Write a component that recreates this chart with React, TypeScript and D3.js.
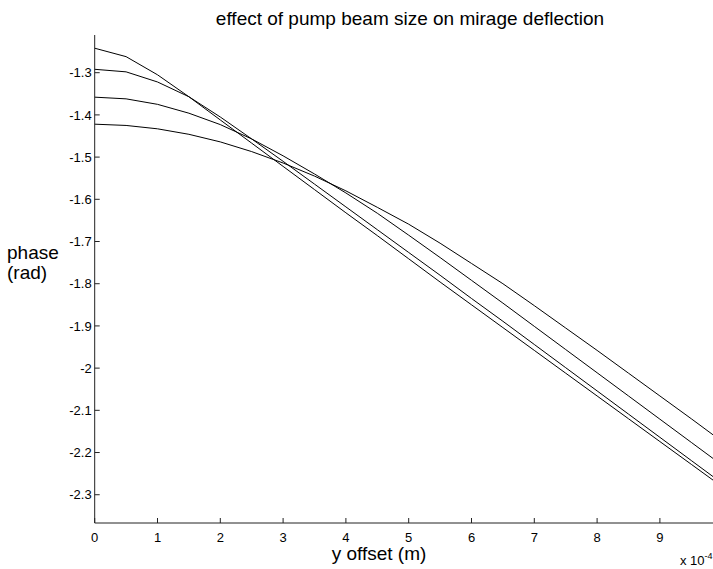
import React from "react";
import * as d3 from "d3";

const xValues = [0, 0.5, 1, 1.5, 2, 2.5, 3, 3.5, 4, 4.5, 5, 5.5, 6, 6.5, 7, 7.5, 8, 8.5, 9, 9.5, 10];
const seriesA = [-1.242, -1.262, -1.305, -1.357, -1.412, -1.467, -1.522, -1.577, -1.632, -1.686, -1.741, -1.796, -1.850, -1.904, -1.958, -2.012, -2.066, -2.120, -2.174, -2.228, -2.282];
const seriesB = [-1.292, -1.298, -1.322, -1.357, -1.405, -1.457, -1.510, -1.564, -1.618, -1.672, -1.726, -1.780, -1.835, -1.889, -1.944, -1.999, -2.054, -2.109, -2.164, -2.219, -2.274];
const seriesC = [-1.358, -1.362, -1.375, -1.396, -1.423, -1.457, -1.497, -1.540, -1.585, -1.633, -1.685, -1.738, -1.792, -1.846, -1.901, -1.956, -2.011, -2.066, -2.121, -2.176, -2.231];
const seriesD = [-1.422, -1.425, -1.433, -1.446, -1.464, -1.487, -1.514, -1.545, -1.580, -1.619, -1.659, -1.704, -1.752, -1.800, -1.852, -1.905, -1.958, -2.012, -2.066, -2.120, -2.175];
const allSeries = [seriesA, seriesB, seriesC, seriesD];

const xTicks = [0, 1, 2, 3, 4, 5, 6, 7, 8, 9, 10];
const xTickLabels = ["0", "1", "2", "3", "4", "5", "6", "7", "8", "9", "10"];
const yTicks = [-1.3, -1.4, -1.5, -1.6, -1.7, -1.8, -1.9, -2, -2.1, -2.2, -2.3];
const yTickLabels = ["-1.3", "-1.4", "-1.5", "-1.6", "-1.7", "-1.8", "-1.9", "-2", "-2.1", "-2.2", "-2.3"];

const titleText = "effect of pump beam size on mirage deflection";
const xLabelText = "y offset (m)";
const yLabelLines = ["phase", "(rad)"];
const exponentBase = "x 10";
const exponentPower = "-4";

const W = 713;
const H = 569;
const FONT = "'Liberation Sans', Arial, Helvetica, sans-serif";

export default function App() {
  const x = d3.scaleLinear().domain([0, 10]).range([94.7, 722.7]);
  const y = d3.scaleLinear().domain([-2.367, -1.2107]).range([523, 35]);
  const line = d3
    .line<number>()
    .x((_, i) => x(xValues[i]))
    .y((d) => y(d));

  const x0 = x(0);
  const yb = y(-2.367);
  const yt = y(-1.2107);

  return (
    <svg
      width={W}
      height={H}
      style={{ position: "absolute", left: 0, top: 0, background: "#fff" }}
      fontFamily={FONT}
    >
      <rect x={0} y={0} width={W} height={H} fill="#fff" />
      {allSeries.map((s, k) => (
        <path key={k} d={line(s) || ""} fill="none" stroke="#000" strokeWidth={1} />
      ))}
      <line x1={x0} x2={x0} y1={yt} y2={yb} stroke="#222" strokeWidth={1} />
      <line x1={x0} x2={x(10)} y1={yb} y2={yb} stroke="#222" strokeWidth={1} />
      {yTicks.map((t, i) => (
        <g key={"yt" + i}>
          <line x1={x0} x2={x0 + 5} y1={y(t)} y2={y(t)} stroke="#222" strokeWidth={1} />
          <text x={x0 - 3} y={y(t)} dy="0.36em" textAnchor="end" fontSize={13} fill="#000">
            {yTickLabels[i]}
          </text>
        </g>
      ))}
      {xTicks.map((t, i) => (
        <g key={"xt" + i}>
          <line x1={x(t)} x2={x(t)} y1={yb} y2={yb - 5} stroke="#222" strokeWidth={1} />
          {x(t) < W - 8 && (
            <text x={x(t)} y={541.5} textAnchor="middle" fontSize={13} fill="#000">
              {xTickLabels[i]}
            </text>
          )}
        </g>
      ))}
      <text x={410} y={25} textAnchor="middle" fontSize={19} fill="#000">
        {titleText}
      </text>
      <text x={379} y={560} textAnchor="middle" fontSize={19} fill="#000">
        {xLabelText}
      </text>
      <text x={7} y={258.5} fontSize={19} fill="#000">
        {yLabelLines[0]}
      </text>
      <text x={7} y={278.5} fontSize={19} fill="#000">
        {yLabelLines[1]}
      </text>
      <text x={680} y={565} fontSize={13} fill="#000">
        {exponentBase}
        <tspan dy={-6} fontSize={9}>{exponentPower}</tspan>
      </text>
    </svg>
  );
}
